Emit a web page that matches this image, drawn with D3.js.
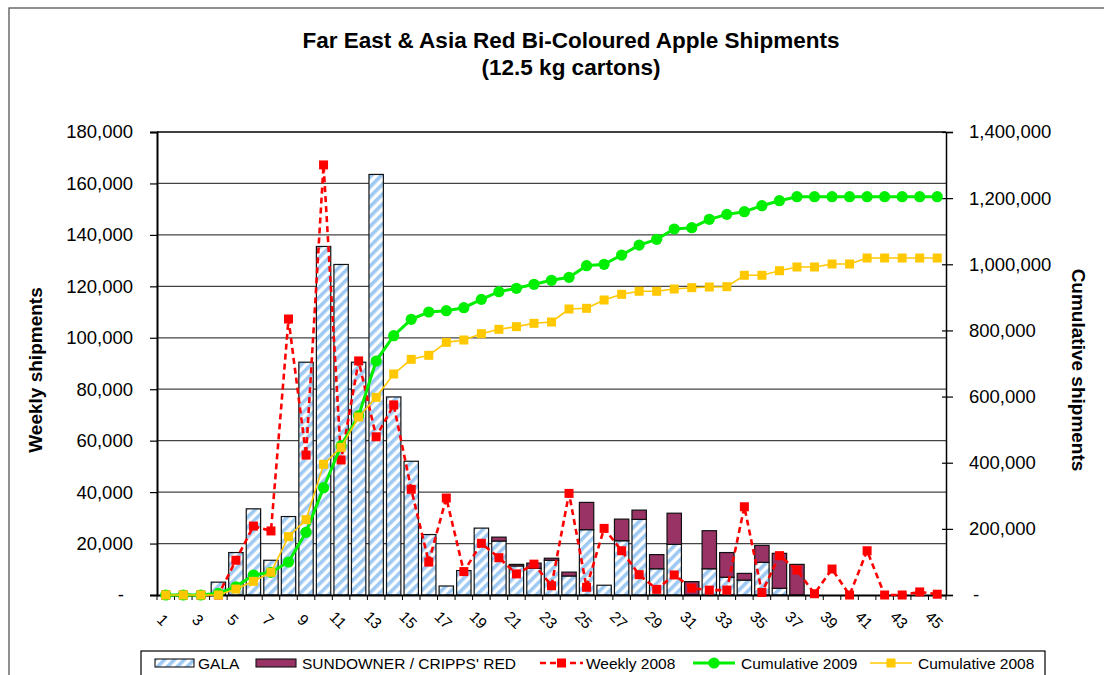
<!DOCTYPE html>
<html>
<head>
<meta charset="utf-8">
<script src="https://cdn.jsdelivr.net/npm/d3@7"></script>
<style>
  html, body { margin: 0; padding: 0; background: #fff; }
  svg { display: block; font-family: "Liberation Sans", Arial, sans-serif; }
</style>
</head>
<body>
<svg id="chart" width="1104" height="675"></svg>
<script>
// ---------- data ----------
const weeks = [1,2,3,4,5,6,7,8,9,10,11,12,13,14,15,16,17,18,19,20,21,22,23,24,25,26,27,28,29,30,31,32,33,34,35,36,37,38,39,40,41,42,43,44,45];
const gala = [0,0,0,5000,16500,33500,13500,30500,90500,135500,128500,90500,163500,77000,52000,23500,3500,9500,26000,21000,11300,10400,13500,7400,25400,3800,21100,29400,10200,19700,0,10200,6900,5800,12700,2600,0,0,0,0,0,0,0,0,0];
const sundowner = [0,0,0,0,0,0,0,0,0,0,0,0,0,0,0,0,0,0,0,1500,600,2000,800,1500,10600,0,8400,3600,5500,12100,5200,14800,9600,2600,6600,13600,11900,0,0,0,0,0,0,0,0];
const weekly2008 = [0,0,0,0,13500,26800,24900,107300,54400,167200,52500,91000,61500,73900,41100,12800,37700,9100,20100,14500,8200,12000,3600,39500,3000,25900,17200,7900,2200,7800,2700,1900,1900,34300,1000,15300,9700,500,10100,0,17200,0,0,1200,300];
const cum2009 = [0,0,0,5000,25000,60500,68600,99800,189500,324500,451500,542200,707600,784000,833600,855700,859700,868700,894000,917200,927300,939500,951600,960600,995700,1000000,1028000,1058000,1075500,1106700,1110700,1136000,1151000,1159000,1177200,1192300,1204400,1204400,1204400,1204400,1204400,1204400,1204400,1204400,1204400];
const cum2008 = [0,0,0,0,18000,41300,68600,176400,227800,395100,446500,538200,597700,668300,712600,724700,764000,771000,790200,803400,811400,821500,825500,864800,866900,892000,909200,918400,918400,925300,929200,931300,932300,966700,966700,980600,991800,991800,1000900,1000900,1019000,1019000,1019000,1019000,1019000];
const leftTicks = [0,20000,40000,60000,80000,100000,120000,140000,160000,180000];
const rightTicks = [0,200000,400000,600000,800000,1000000,1200000,1400000];
const titleLines = ["Far East & Asia Red Bi-Coloured Apple Shipments", "(12.5 kg cartons)"];
const seriesNames = ["GALA", "SUNDOWNER / CRIPPS' RED", "Weekly 2008", "Cumulative 2009", "Cumulative 2008"];

// ---------- layout ----------
const L = 157, R = 946, T = 132, B = 595;
const svg = d3.select("#chart");
const fmt = d3.format(",");

const x = d3.scaleBand().domain(weeks).range([L, R]).paddingInner(0.18).paddingOuter(0.09);
const y = d3.scaleLinear().domain([0, 180000]).range([B, T]);
const y2 = d3.scaleLinear().domain([0, 1400000]).range([B, T]);
const cx = w => x(w) + x.bandwidth() / 2;

// pattern for GALA
const defs = svg.append("defs");
const pat = defs.append("pattern").attr("id", "gala").attr("patternUnits", "userSpaceOnUse")
  .attr("width", 7).attr("height", 7).attr("patternTransform", "rotate(45)");
pat.append("rect").attr("width", 7).attr("height", 7).attr("fill", "#fff");
pat.append("rect").attr("width", 3.6).attr("height", 7).attr("fill", "#9ec9f3");

// outer frame
svg.append("rect").attr("x", 9).attr("y", 8).attr("width", 1110).attr("height", 700)
  .attr("fill", "none").attr("stroke", "#555").attr("stroke-width", 1.3);

// title
svg.append("g").selectAll("text").data(titleLines).join("text")
  .attr("x", 571).attr("y", (d, i) => 48 + i * 27)
  .attr("text-anchor", "middle").attr("font-weight", "bold").attr("font-size", 22.5)
  .text(d => d);

// gridlines
svg.append("g").selectAll("line").data(leftTicks.slice(1)).join("line")
  .attr("x1", L).attr("x2", R).attr("y1", d => y(d)).attr("y2", d => y(d))
  .attr("stroke", d => d === 180000 ? "#000" : "#444").attr("stroke-width", 1.3);

// bars
const stackData = weeks.map((w, i) => ({ w, gala: gala[i], sund: sundowner[i] }));
const stack = d3.stack().keys(["gala", "sund"])(stackData);
const fills = { gala: "url(#gala)", sund: "#993366" };
svg.append("g").selectAll("g").data(stack).join("g")
  .attr("fill", d => fills[d.key])
  .selectAll("rect").data(d => d.filter(p => p[1] - p[0] > 0)).join("rect")
  .attr("x", d => x(d.data.w)).attr("width", x.bandwidth())
  .attr("y", d => y(d[1])).attr("height", d => y(d[0]) - y(d[1]))
  .attr("stroke", "#111").attr("stroke-width", 1.2);

// axes
const leftAxis = svg.append("g").attr("transform", `translate(${L},0)`)
  .call(d3.axisLeft(y).tickValues(leftTicks).tickSize(7).tickPadding(17)
    .tickFormat(d => d === 0 ? "-" : fmt(d)));
leftAxis.select(".domain").attr("stroke", "#000").attr("stroke-width", 2);
leftAxis.selectAll("text").attr("font-size", 18.5).attr("fill", "#000")
  .attr("font-family", "Liberation Sans, Arial, sans-serif")
  .attr("dx", d => d === 0 ? -9 : 0);
leftAxis.selectAll(".tick line").attr("stroke", "#000").attr("stroke-width", 1.2);

const rightAxis = svg.append("g").attr("transform", `translate(${R},0)`)
  .call(d3.axisRight(y2).tickValues(rightTicks).tickSize(7).tickPadding(16)
    .tickFormat(d => d === 0 ? "-" : fmt(d)));
rightAxis.select(".domain").attr("stroke", "#000").attr("stroke-width", 1.5);
rightAxis.selectAll("text").attr("font-size", 18.5).attr("fill", "#000")
  .attr("font-family", "Liberation Sans, Arial, sans-serif")
  .attr("dx", d => d === 0 ? 4 : 0);
rightAxis.selectAll(".tick line").attr("stroke", "#000").attr("stroke-width", 1.2).attr("x1", -4);

const bottomAxis = svg.append("g").attr("transform", `translate(0,${B})`)
  .call(d3.axisBottom(x).tickSize(0).tickFormat(d => d % 2 === 1 ? d : ""));
bottomAxis.select(".domain").attr("stroke", "#000").attr("stroke-width", 2);
bottomAxis.selectAll("text").attr("font-size", 15.5).attr("fill", "#000")
  .attr("font-family", "Liberation Sans, Arial, sans-serif")
  .attr("text-anchor", "middle").attr("y", 0)
  .attr("transform", "translate(1,21) rotate(45)");
// category boundary ticks
svg.append("g").selectAll("line").data(weeks.concat([46])).join("line")
  .attr("x1", (d, i) => L + i * x.step()).attr("x2", (d, i) => L + i * x.step())
  .attr("y1", B).attr("y2", B + 5).attr("stroke", "#000").attr("stroke-width", 1);

// axis titles
svg.append("text").attr("transform", "translate(42,370) rotate(-90)")
  .attr("text-anchor", "middle").attr("font-weight", "bold").attr("font-size", 19)
  .text("Weekly shipments");
svg.append("text").attr("transform", "translate(1072,370) rotate(90)")
  .attr("text-anchor", "middle").attr("font-weight", "bold").attr("font-size", 19)
  .text("Cumulative shipments");

// Weekly 2008 line
const lineL = d3.line().x((d, i) => cx(weeks[i])).y(d => y(d));
const lineR = d3.line().x((d, i) => cx(weeks[i])).y(d => y2(d));
svg.append("path").datum(weekly2008).attr("d", lineL).attr("fill", "none")
  .attr("stroke", "#ff0000").attr("stroke-width", 2.6).attr("stroke-dasharray", "6,4");
svg.append("g").selectAll("rect").data(weekly2008).join("rect")
  .attr("x", (d, i) => cx(weeks[i]) - 4.5).attr("y", d => y(d) - 4.5)
  .attr("width", 9).attr("height", 9).attr("fill", "#ff0000");

// Cumulative 2009
svg.append("path").datum(cum2009).attr("d", lineR).attr("fill", "none")
  .attr("stroke", "#00ee00").attr("stroke-width", 3);
svg.append("g").selectAll("circle").data(cum2009).join("circle")
  .attr("cx", (d, i) => cx(weeks[i])).attr("cy", d => y2(d)).attr("r", 5.6)
  .attr("fill", "#00ee00");

// Cumulative 2008
svg.append("path").datum(cum2008).attr("d", lineR).attr("fill", "none")
  .attr("stroke", "#ffc800").attr("stroke-width", 1.6);
svg.append("g").selectAll("rect").data(cum2008).join("rect")
  .attr("x", (d, i) => cx(weeks[i]) - 4.5).attr("y", d => y2(d) - 4.5)
  .attr("width", 9).attr("height", 9).attr("fill", "#ffc800");

// legend
const lg = svg.append("g");
lg.append("rect").attr("x", 141).attr("y", 651).attr("width", 904).attr("height", 40)
  .attr("fill", "#fff").attr("stroke", "#000").attr("stroke-width", 1.2);
const ly = 663;
lg.append("rect").attr("x", 155).attr("y", ly - 4).attr("width", 39).attr("height", 8)
  .attr("fill", "url(#gala)").attr("stroke", "#111").attr("stroke-width", 1.1);
lg.append("rect").attr("x", 256).attr("y", ly - 4).attr("width", 40).attr("height", 8)
  .attr("fill", "#993366").attr("stroke", "#111").attr("stroke-width", 1.1);
lg.append("line").attr("x1", 540).attr("x2", 583).attr("y1", ly).attr("y2", ly)
  .attr("stroke", "#ff0000").attr("stroke-width", 2.6).attr("stroke-dasharray", "6,4");
lg.append("rect").attr("x", 557).attr("y", ly - 4.5).attr("width", 9).attr("height", 9).attr("fill", "#ff0000");
lg.append("line").attr("x1", 693).attr("x2", 735).attr("y1", ly).attr("y2", ly)
  .attr("stroke", "#00ee00").attr("stroke-width", 3);
lg.append("circle").attr("cx", 714).attr("cy", ly).attr("r", 5.6).attr("fill", "#00ee00");
lg.append("line").attr("x1", 870).attr("x2", 912).attr("y1", ly).attr("y2", ly)
  .attr("stroke", "#ffc800").attr("stroke-width", 1.6);
lg.append("rect").attr("x", 886.5).attr("y", ly - 4.5).attr("width", 9).attr("height", 9).attr("fill", "#ffc800");
const legX = [198, 302, 586, 741, 918];
lg.selectAll("text.lt").data(seriesNames).join("text").attr("class", "lt")
  .attr("x", (d, i) => legX[i]).attr("y", ly + 5.5).attr("font-size", 15.5)
  .text(d => d);
</script>
</body>
</html>
